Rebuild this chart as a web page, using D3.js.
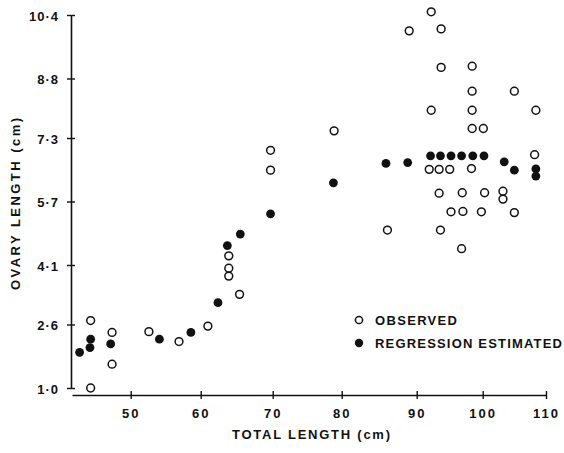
<!DOCTYPE html>
<html>
<head>
<meta charset="utf-8">
<script src="https://cdn.jsdelivr.net/npm/d3@7"></script>
<style>
  body { margin: 0; background: #fff; }
  svg { display: block; }
  text { font-family: "Liberation Sans", Arial, sans-serif; font-weight: bold; fill: #111; }
</style>
</head>
<body>
<svg id="chart" width="564" height="453"></svg>
<script>
// Observed ovary length against total length (cm)
const obsTotal = [44.2, 44.2, 47.3, 47.3, 52.6, 56.9, 61.0, 63.9, 63.9, 63.9, 65.4, 69.7, 69.7, 78.9,
  86.1, 89.0, 92.2, 93.7, 93.7, 98.4, 98.4, 105.0, 92.2, 98.4, 108.4, 98.4, 100.1, 108.2,
  91.9, 93.4, 95.0, 98.3, 93.4, 96.9, 100.3, 103.2, 103.2, 95.2, 97.0, 99.8, 105.0, 93.6, 96.8];
const obsOvary = [2.70, 1.00, 2.40, 1.60, 2.42, 2.17, 2.56, 4.33, 4.02, 3.82, 3.36, 6.99, 6.49, 7.48,
  4.98, 10.00, 10.48, 10.05, 9.08, 9.11, 8.48, 8.48, 8.00, 8.00, 8.00, 7.54, 7.54, 6.88,
  6.51, 6.51, 6.51, 6.53, 5.91, 5.92, 5.92, 5.96, 5.76, 5.44, 5.45, 5.44, 5.42, 4.98, 4.51];

// Regression-estimated ovary length
const estTotal = [42.6, 44.2, 44.1, 47.1, 54.1, 58.6, 62.4, 63.7, 65.5, 69.7, 78.8, 85.9, 88.8,
  92.1, 93.6, 95.2, 96.8, 98.5, 100.2, 103.4, 105.0, 108.4, 108.4];
const estOvary = [1.90, 2.23, 2.02, 2.11, 2.23, 2.40, 3.15, 4.59, 4.88, 5.39, 6.17, 6.66, 6.68,
  6.85, 6.85, 6.85, 6.85, 6.85, 6.85, 6.70, 6.49, 6.52, 6.34];

const xTicks = [50, 60, 70, 80, 90, 100, 110];
const yTicks = [1.0, 2.6, 4.1, 5.7, 7.3, 8.8, 10.4];
const legendLabels = ["OBSERVED", "REGRESSION ESTIMATED"];

const svg = d3.select("#chart");
const ink = "#111";

// Hand-ruled horizontal axis: tick spacing is slightly uneven
const x = d3.scaleLinear()
  .domain([41.5, 50, 60, 70, 80, 90, 100, 110])
  .range([72, 130.7, 200.7, 272.7, 341.7, 416.7, 482.7, 546]);
const y = d3.scaleLinear().domain([1.0, 10.4]).range([388, 15]);

const fmt = d => d.toFixed(1).replace(".", "\u00B7");

// Y axis
const gy = svg.append("g").attr("transform", "translate(71,0)")
  .call(d3.axisLeft(y).tickValues(yTicks).tickFormat(fmt).tickSize(4).tickSizeOuter(0).tickPadding(8));
gy.select(".domain").attr("stroke", ink).attr("stroke-width", 1.6);
gy.selectAll(".tick line").attr("x1", -4).attr("x2", 4).attr("stroke", ink).attr("stroke-width", 1.4);
gy.selectAll(".tick text").attr("font-size", 13).attr("letter-spacing", 1)
  .attr("dy", "0.4em")
  .style("font-family", '"Liberation Sans", Arial, sans-serif').attr("fill", ink);

// X axis
const gx = svg.append("g").attr("transform", "translate(0,395)")
  .call(d3.axisBottom(x).tickValues(xTicks).tickFormat(d3.format("d")).tickSize(4).tickSizeOuter(0).tickPadding(10));
gx.select(".domain").attr("stroke", ink).attr("stroke-width", 1.6);
gx.selectAll(".tick line").attr("y1", -4).attr("y2", 4).attr("stroke", ink).attr("stroke-width", 1.4);
gx.selectAll(".tick text").attr("font-size", 13).attr("letter-spacing", 2)
  .style("font-family", '"Liberation Sans", Arial, sans-serif').attr("fill", ink);

// Axis titles
svg.append("text")
  .attr("x", 311).attr("y", 439)
  .attr("text-anchor", "middle").attr("font-size", 13)
  .attr("textLength", 158).attr("lengthAdjust", "spacing")
  .text("TOTAL LENGTH (cm)");

svg.append("text")
  .attr("transform", "translate(20,204) rotate(-90)")
  .attr("text-anchor", "middle").attr("font-size", 13)
  .attr("textLength", 172).attr("lengthAdjust", "spacing")
  .text("OVARY LENGTH (cm)");

// Points
const obs = obsTotal.map((t, i) => ({ t, o: obsOvary[i] }));
const est = estTotal.map((t, i) => ({ t, o: estOvary[i] }));

svg.append("g").selectAll("circle").data(obs).join("circle")
  .attr("cx", d => x(d.t)).attr("cy", d => y(d.o)).attr("r", 3.9)
  .attr("fill", "#fff").attr("stroke", ink).attr("stroke-width", 1.5);

svg.append("g").selectAll("circle").data(est).join("circle")
  .attr("cx", d => x(d.t)).attr("cy", d => y(d.o)).attr("r", 4.4)
  .attr("fill", ink);

// Legend
const lg = svg.append("g");
lg.append("circle").attr("cx", 359).attr("cy", 320).attr("r", 3.6)
  .attr("fill", "#fff").attr("stroke", ink).attr("stroke-width", 1.5);
lg.append("circle").attr("cx", 359).attr("cy", 343).attr("r", 4.2).attr("fill", ink);
lg.append("text").attr("x", 375).attr("y", 325).attr("font-size", 13)
  .attr("textLength", 82).attr("lengthAdjust", "spacing").text(legendLabels[0]);
lg.append("text").attr("x", 375).attr("y", 348).attr("font-size", 13)
  .attr("textLength", 187).attr("lengthAdjust", "spacing").text(legendLabels[1]);
</script>
</body>
</html>
